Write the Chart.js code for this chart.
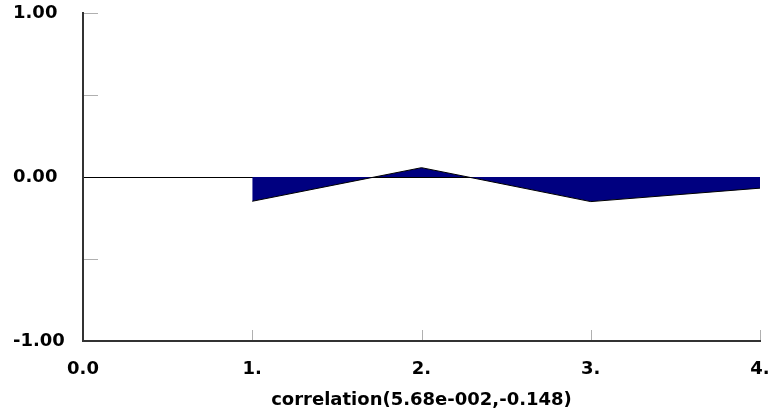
<!doctype html>
<html>

<head>
	<title>Correlation</title>
	<script src="https://cdn.jsdelivr.net/npm/chart.js@4/dist/chart.umd.min.js"></script>
	<style>
		html, body {
			margin: 0;
			padding: 0;
			background: #fff;
		}
		#wrap {
			width: 776px;
			height: 417px;
		}
	</style>
</head>

<body>
	<div id="wrap">
		<canvas id="canvas" width="776" height="417"></canvas>
	</div>
	<script>
		var lagValues = [1, 2, 3, 4];
		var corrValues = [-0.148, 0.0568, -0.15, -0.068];
		var yTickValues = [-1, -0.5, 0, 0.5, 1];
		var xTickValues = [0, 1, 2, 3, 4];
		var axisTitle = 'correlation(5.68e-002,-0.148)';

		var labelFont = {family: 'DejaVu Sans', size: 18, weight: 'bold'};

		// short grey tick marks pointing into the plot area
		var innerTicks = {
			id: 'innerTicks',
			afterDraw: function(chart) {
				var ctx = chart.ctx;
				var x = chart.scales.x, y = chart.scales.y;
				var area = chart.chartArea;
				ctx.save();
				ctx.strokeStyle = '#b0b0b0';
				ctx.lineWidth = 1;
				ctx.beginPath();
				yTickValues.forEach(function(v) {
					if (v === 0 || v === -1) return;
					var py = Math.round(y.getPixelForValue(v)) + 0.5;
					ctx.moveTo(area.left + 1, py);
					ctx.lineTo(area.left + 15, py);
				});
				xTickValues.forEach(function(v) {
					if (v === 0) return;
					var px = Math.round(x.getPixelForValue(v)) + 0.5;
					ctx.moveTo(px, area.bottom - 1);
					ctx.lineTo(px, area.bottom - 11);
				});
				ctx.stroke();
				ctx.restore();
			}
		};

		var config = {
			type: 'line',
			data: {
				datasets: [{
					data: lagValues.map(function(v, i) {
						return {x: v, y: corrValues[i]};
					}),
					borderColor: '#000000',
					borderWidth: 1,
					backgroundColor: '#000080',
					fill: 'origin',
					pointRadius: 0,
					tension: 0
				}]
			},
			options: {
				responsive: false,
				animation: false,
				layout: {
					padding: {left: 13, right: 16, top: 13, bottom: 0}
				},
				plugins: {
					legend: {display: false},
					tooltip: {enabled: false}
				},
				scales: {
					x: {
						type: 'linear',
						min: 0,
						max: 4,
						afterBuildTicks: function(scale) {
							scale.ticks = xTickValues.map(function(v) {
								return {value: v};
							});
						},
						afterFit: function(scale) {
							scale.height = 76;
							scale.paddingLeft = 0;
							scale.paddingRight = 0;
						},
						grid: {display: false, drawTicks: false},
						border: {display: true, color: '#333333', width: 2},
						ticks: {
							color: '#000',
							font: labelFont,
							padding: 18,
							maxRotation: 0,
							callback: function(v) {
								return v === 0 ? '0.0' : v + '.';
							}
						},
						title: {
							display: true,
							text: axisTitle,
							color: '#000',
							font: labelFont,
							padding: {top: 0, bottom: 6}
						}
					},
					y: {
						min: -1,
						max: 1,
						z: 1,
						afterBuildTicks: function(scale) {
							scale.ticks = yTickValues.map(function(v) {
								return {value: v};
							});
						},
						afterFit: function(scale) {
							scale.width = 70;
							scale.paddingTop = 0;
							scale.paddingBottom = 0;
						},
						grid: {
							drawTicks: false,
							color: function(c) {
								return c.tick && c.tick.value === 0 ? '#000000' : 'rgba(0,0,0,0)';
							},
							lineWidth: 1
						},
						border: {display: true, color: '#333333', width: 2},
						ticks: {
							color: '#000',
							font: labelFont,
							crossAlign: 'far',
							callback: function(v) {
								return Number.isInteger(v) ? v.toFixed(2) : '';
							}
						}
					}
				}
			},
			plugins: [innerTicks]
		};

		window.myChart = new Chart(document.getElementById('canvas'), config);
	</script>
</body>

</html>
